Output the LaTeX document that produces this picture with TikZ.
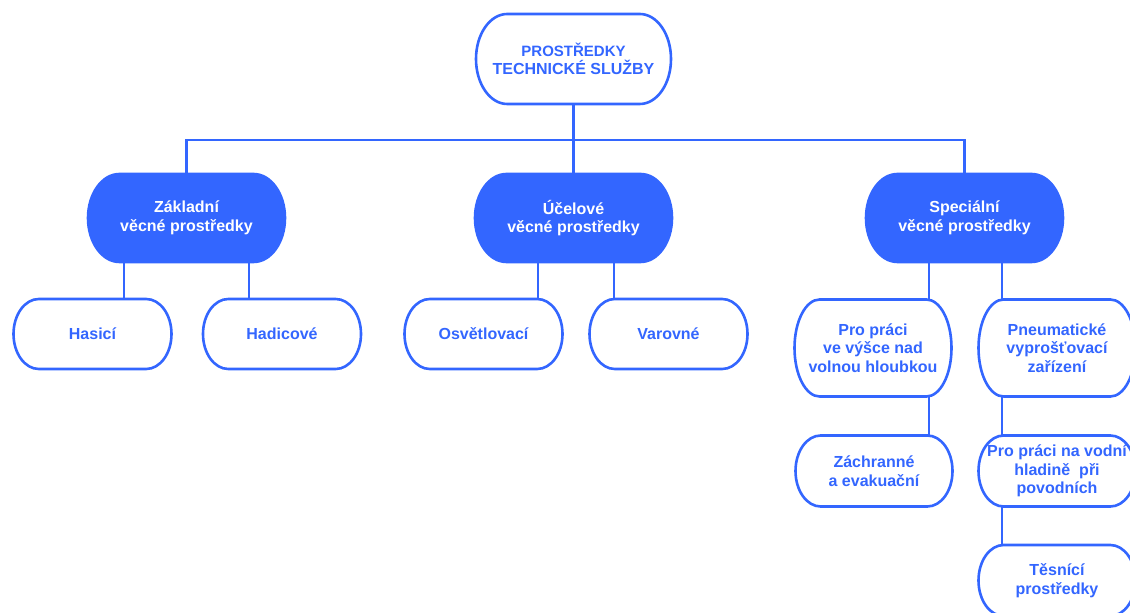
\documentclass[tikz,border=0pt]{standalone}
\usepackage{fontspec}
\setmainfont{Liberation Sans}
\usepackage{tikz}
\definecolor{accentblue}{RGB}{51, 102, 255}
\tikzset{
  link/.style={accentblue, line width=2.6pt},
  boxtext/.style={font=\bfseries\fontsize{16}{18.5}\selectfont, align=center, inner sep=0pt, outer sep=0pt}
}
\newcommand{\pillbox}[8]{%
  \pgfmathsetmacro\pillrx{0.16*#4}
  \draw[link, fill=#6] (#2-#4/2+\pillrx, #3+#5/2) -- (#2+#4/2-\pillrx, #3+#5/2)
    arc[start angle=90, end angle=-90, x radius=\pillrx, y radius=#5/2]
    -- (#2-#4/2+\pillrx, #3-#5/2)
    arc[start angle=270, end angle=90, x radius=\pillrx, y radius=#5/2] -- cycle;
  \node[boxtext, text=#7, minimum width=#4, minimum height=#5] (#1) at (#2,#3) {#8};
}

\begin{document}
\begin{tikzpicture}[x=1pt, y=1pt]
  \clip (0,0) rectangle (1130,613);
  \pillbox{root}{573.5}{554}{195}{90}{white}{accentblue}{\fontsize{15}{18.3}\selectfont PROSTŘEDKY\\TECHNICKÉ SLUŽBY}
  \pillbox{zakl}{186.5}{395}{197}{88}{accentblue}{white}{Základní\\věcné prostředky}
  \pillbox{ucel}{573.5}{395}{197}{88}{accentblue}{white}{Účelové\\věcné prostředky}
  \pillbox{spec}{964.5}{395}{197}{88}{accentblue}{white}{Speciální\\věcné prostředky}
  \pillbox{hasic}{92.5}{279}{158}{70}{white}{accentblue}{Hasicí}
  \pillbox{hadic}{282}{279}{158}{70}{white}{accentblue}{Hadicové}
  \pillbox{osvet}{483.5}{279}{158}{70}{white}{accentblue}{Osvětlovací}
  \pillbox{varov}{668.5}{279}{158}{70}{white}{accentblue}{Varovné}
  \pillbox{vyska}{873}{265}{157}{97}{white}{accentblue}{Pro práci\\ve výšce nad\\volnou hloubkou}
  \pillbox{pneu}{1057}{265}{157}{97}{white}{accentblue}{Pneumatické\\vyprošťovací\\zařízení}
  \pillbox{zachr}{874}{142}{157}{71}{white}{accentblue}{Záchranné\\a evakuační}
  \pillbox{vodni}{1057}{142}{157}{71}{white}{accentblue}{Pro práci na vodní\\hladině~ při\\povodních}
  \pillbox{tesni}{1057}{32.5}{157}{71}{white}{accentblue}{Těsnící\\prostředky}
  \coordinate (bus) at (573.5,473);
  \draw[link] (root.south) -- (ucel.north);
  \draw[link] (zakl.north) |- (bus) -| (spec.north);
  \foreach \p/\k/\xx in {zakl/hasic/124, zakl/hadic/249, ucel/osvet/538, ucel/varov/614,
      spec/vyska/929, spec/pneu/1002, vyska/zachr/929, pneu/vodni/1002, vodni/tesni/1002}
    \draw[link] (\p.south -| \xx,0) -- (\k.north -| \xx,0);
\end{tikzpicture}
\end{document}
